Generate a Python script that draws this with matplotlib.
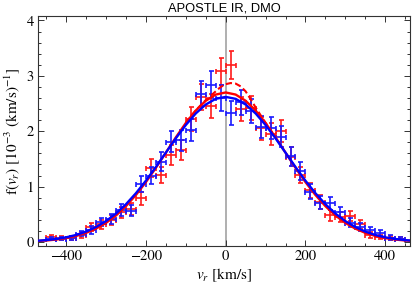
import matplotlib
matplotlib.use("Agg")
import matplotlib.pyplot as plt
from matplotlib.ticker import MultipleLocator

# ---- data ----
bin_centers = [-437.5, -412.5, -387.5, -362.5, -337.5, -312.5, -287.5, -262.5,
               -237.5, -212.5, -187.5, -162.5, -137.5, -112.5, -87.5, -62.5,
               -37.5, -12.5, 12.5, 37.5, 62.5, 87.5, 112.5, 137.5, 162.5,
               187.5, 212.5, 237.5, 262.5, 287.5, 312.5, 337.5, 362.5, 387.5,
               412.5, 437.5]
bin_halfwidth = 12.5

red_vals = [0.09, 0.07, 0.07, 0.13, 0.27, 0.32, 0.40, 0.54,
            0.60, 0.79, 1.33, 1.21, 1.57, 1.66, 2.22, 2.62,
            2.45, 3.08, 3.20, 2.40, 2.42, 2.05, 1.95, 2.00, 1.54,
            1.21, 0.93, 0.72, 0.48, 0.45, 0.46, 0.32, 0.13, 0.09,
            0.07, 0.06]
red_err = [0.04, 0.04, 0.04, 0.05, 0.07, 0.08, 0.09, 0.10,
           0.11, 0.12, 0.16, 0.15, 0.18, 0.18, 0.21, 0.23,
           0.22, 0.25, 0.25, 0.22, 0.22, 0.20, 0.20, 0.20, 0.17,
           0.15, 0.13, 0.12, 0.10, 0.09, 0.09, 0.08, 0.05, 0.04,
           0.04, 0.03]

blue_vals = [0.06, 0.06, 0.07, 0.15, 0.22, 0.36, 0.42, 0.58,
             0.56, 1.05, 1.20, 1.45, 1.81, 1.84, 2.02, 2.68,
             2.84, 2.60, 2.33, 2.52, 2.36, 2.08, 2.06, 1.90, 1.55,
             1.28, 0.91, 0.71, 0.70, 0.54, 0.35, 0.27, 0.21, 0.16,
             0.08, 0.06]
blue_err = [0.03, 0.03, 0.04, 0.05, 0.07, 0.08, 0.09, 0.11,
            0.10, 0.14, 0.15, 0.17, 0.19, 0.19, 0.20, 0.23,
            0.24, 0.23, 0.21, 0.22, 0.22, 0.20, 0.20, 0.19, 0.17,
            0.16, 0.13, 0.12, 0.12, 0.10, 0.08, 0.07, 0.06, 0.06,
            0.04, 0.03]

curve_v = [-475, -450, -425, -400, -375, -350, -325, -300, -275, -250, -225,
           -200, -175, -150, -125, -100, -75, -50, -25, 0, 25, 50, 75, 100,
           125, 150, 175, 200, 225, 250, 275, 300, 325, 350, 375, 400, 425,
           450, 475]
red_fit = [0.015, 0.026, 0.043, 0.069, 0.108, 0.164, 0.241, 0.344, 0.478,
           0.646, 0.848, 1.081, 1.339, 1.613, 1.888, 2.148, 2.374, 2.550,
           2.662, 2.700, 2.662, 2.550, 2.374, 2.148, 1.888, 1.613, 1.339,
           1.081, 0.848, 0.646, 0.478, 0.344, 0.241, 0.164, 0.108, 0.069,
           0.043, 0.026, 0.015]
blue_fit = [0.020, 0.033, 0.053, 0.083, 0.126, 0.187, 0.269, 0.376, 0.513,
            0.681, 0.880, 1.106, 1.354, 1.613, 1.871, 2.112, 2.321, 2.482,
            2.585, 2.620, 2.585, 2.482, 2.321, 2.112, 1.871, 1.613, 1.354,
            1.106, 0.880, 0.681, 0.513, 0.376, 0.269, 0.187, 0.126, 0.083,
            0.053, 0.033, 0.020]
dash_v = [-100, -87.5, -75, -62.5, -50, -37.5, -25, -12.5, 0, 12.5, 25, 37.5,
          50, 62.5, 75, 87.5, 100, 112.5, 125]
red_dash = [2.148, 2.27, 2.375, 2.47, 2.56, 2.64, 2.72, 2.80, 2.85, 2.87,
            2.86, 2.81, 2.72, 2.58, 2.43, 2.29, 2.15, 2.02, 1.888]

xticks = [-400, -200, 0, 200, 400]
yticks = [0, 1, 2, 3, 4]

# ---- figure ----
plt.rcParams['mathtext.fontset'] = 'stix'
fig = plt.figure(figsize=(4.13, 2.90), dpi=100)
ax = fig.add_axes([0.0915, 0.152, 0.9012, 0.7945])

ax.axvline(0, color='#9a9a9a', lw=1.1, zorder=1)

xerr = [bin_halfwidth] * len(bin_centers)
ax.errorbar(bin_centers, red_vals, xerr=xerr, yerr=red_err, fmt='none',
            ecolor='#ff1a1a', elinewidth=1.2, capsize=1.8, capthick=1.2, zorder=2)
ax.errorbar(bin_centers, blue_vals, xerr=xerr, yerr=blue_err, fmt='none',
            ecolor='#1a1aff', elinewidth=1.2, capsize=1.8, capthick=1.2, zorder=3)

ax.plot(curve_v, red_fit, color='#ff0000', lw=1.7, zorder=4)
ax.plot(dash_v, red_dash, color='#ff0000', lw=1.5, ls=(0, (3, 1.5)), zorder=4)
ax.plot(curve_v, blue_fit, color='#0000ff', lw=1.7, zorder=5)

ax.set_xlim(-471, 462)
ax.set_ylim(-0.072, 4.09)
ax.set_xticks(xticks)
ax.set_yticks(yticks)
ax.xaxis.set_minor_locator(MultipleLocator(50))
ax.yaxis.set_minor_locator(MultipleLocator(0.2))
ax.tick_params(which='both', direction='in', top=True, right=True,
               width=0.7, colors='#333333', labelcolor='black')
ax.tick_params(which='major', length=4.5, labelsize=10.5, pad=3)
ax.tick_params(which='minor', length=2.3)
ax.set_xticklabels([f"\u2212{abs(t)}" if t < 0 else str(t) for t in xticks])
for lab in ax.get_xticklabels() + ax.get_yticklabels():
    lab.set_fontfamily('STIXGeneral')
for s in ax.spines.values():
    s.set_linewidth(0.8)
    s.set_color('#333333')

ax.set_xlabel(r"$v_r$ [km/s]", fontsize=11, fontfamily='STIXGeneral', labelpad=2)
ax.set_ylabel(r"f($v_r$) [$10^{-3}$ (km/s)$^{-1}$]", fontsize=11,
              fontfamily='STIXGeneral', labelpad=3)
ax.set_title("APOSTLE IR, DMO", fontsize=9.3, fontfamily='Liberation Sans', pad=3)

fig.savefig("out.png", dpi=100)
